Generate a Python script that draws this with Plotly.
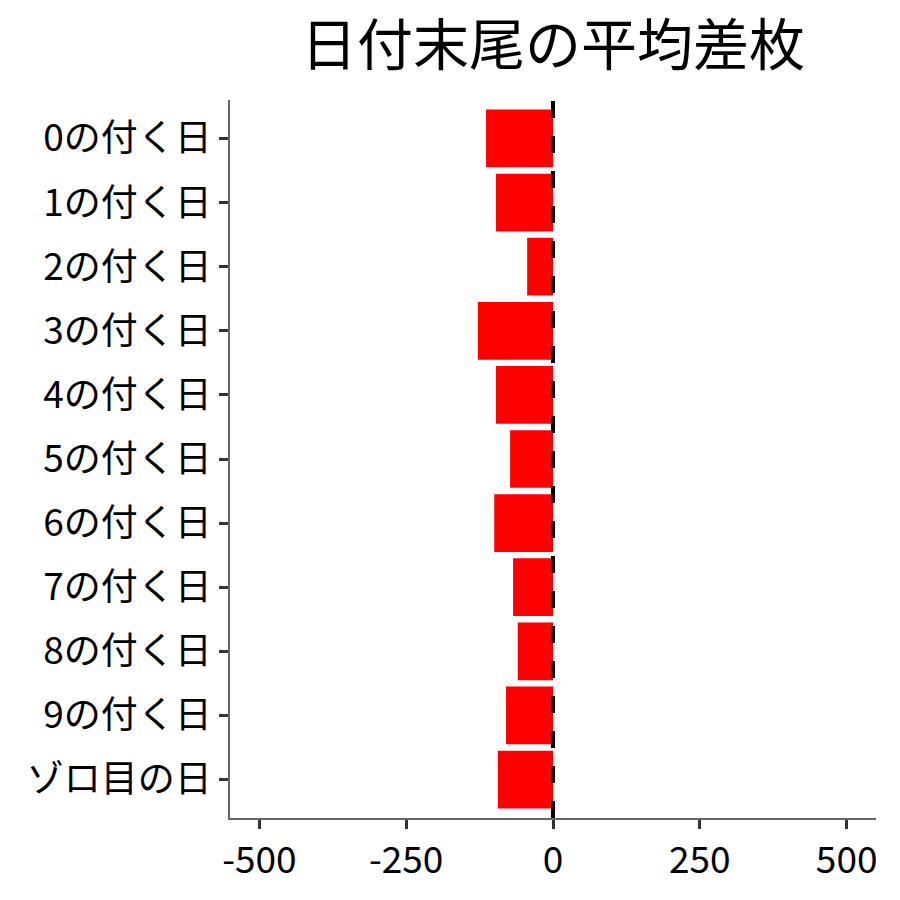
import plotly.graph_objects as go

categories = ["0の付く日", "1の付く日", "2の付く日", "3の付く日", "4の付く日",
              "5の付く日", "6の付く日", "7の付く日", "8の付く日", "9の付く日", "ゾロ目の日"]
avg_diff = [-114, -97, -44, -128, -97, -73, -100, -68, -60, -80, -94]

x_ticks = [-500, -250, 0, 250, 500]

fig = go.Figure()
fig.add_trace(go.Bar(x=avg_diff, y=categories, orientation="h",
                     marker=dict(color="#FF0000", line=dict(width=0)), width=0.9))

# dashed zero line
fig.add_shape(type="line", xref="x", yref="paper", x0=0, x1=0, y0=0, y1=1,
              line=dict(color="black", width=4, dash="17px,18px"))

fig.update_layout(
    width=900, height=900,
    template="none",
    paper_bgcolor="white", plot_bgcolor="white",
    font=dict(family="Noto Sans CJK JP", size=37, color="black"),
    title=dict(text="日付末尾の平均差枚", xref="paper", x=0.5, xanchor="center",
               y=0.959, yanchor="middle", font=dict(size=56, color="black")),
    margin=dict(l=222, r=32, t=92, b=90),
    showlegend=False,
)
fig.update_xaxes(range=[-550, 550], tickvals=x_ticks, ticktext=[str(v) for v in x_ticks],
                 showgrid=False, zeroline=False, showline=True, linecolor="#666666", linewidth=1.5,
                 ticks="outside", ticklen=9, tickwidth=3, tickcolor="#333333",
                 tickfont=dict(size=37, color="black"))
fig.update_yaxes(range=[10.6, -0.6], showgrid=False, zeroline=False, showline=True,
                 linecolor="#666666", linewidth=1.5,
                 ticks="outside", ticklen=9, tickwidth=3, tickcolor="#333333",
                 tickfont=dict(size=37, color="black"))

fig.write_html("out.html")
